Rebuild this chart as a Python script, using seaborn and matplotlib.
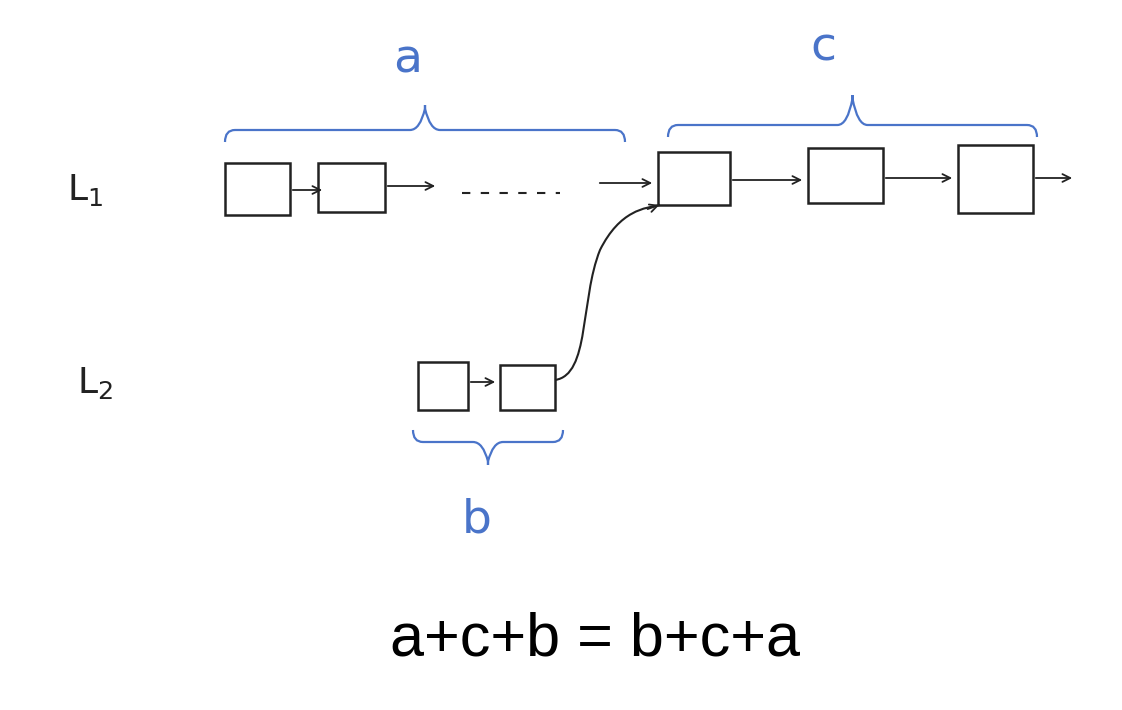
import matplotlib
matplotlib.use("Agg")
import matplotlib.pyplot as plt
from matplotlib.patches import Rectangle, FancyArrowPatch, PathPatch
from matplotlib.path import Path
import seaborn as sns

# node boxes (x0, y0, x1, y1) in pixel space
l1_boxes = [(225, 163, 290, 215), (318, 163, 385, 212), (658, 152, 730, 205),
            (808, 148, 883, 203), (958, 145, 1033, 213)]
l2_boxes = [(418, 362, 468, 410), (500, 365, 555, 410)]
arrows = [((290, 190), (325, 190)), ((385, 186), (438, 186)), ((597, 183), (655, 183)),
          ((730, 180), (805, 180)), ((883, 178), (955, 178)), ((1033, 178), (1075, 178)),
          ((468, 382), (498, 382))]
braces = [(225, 625, 130, 105, 1), (668, 1037, 125, 95, 1), (413, 563, 442, 465, -1)]
brace_labels = [("a", 408, 60), ("c", 823, 48), ("b", 477, 520)]
list_labels = [("L$_1$", 85, 190), ("L$_2$", 95, 383)]
equation = "a+c+b = b+c+a"

blue = "#4a74c9"
ink = "#222222"

sns.set_theme(style="white")
fig = plt.figure(figsize=(11.22, 7.1), dpi=100)
ax = fig.add_axes([0, 0, 1, 1])
ax.set_xlim(0, 1122)
ax.set_ylim(710, 0)
ax.axis("off")

for x0, y0, x1, y1 in l1_boxes + l2_boxes:
    ax.add_patch(Rectangle((x0, y0), x1 - x0, y1 - y0, fill=False, ec=ink, lw=1.8))

for a, b in arrows:
    ax.add_patch(FancyArrowPatch(a, b, arrowstyle="->", mutation_scale=14, color=ink, lw=1.3))

# dashed gap in L1
ax.plot([462, 560], [193, 193], color=ink, lw=1.5, ls=(0, (4, 5)))

# curve from L2 tail to L1 node
verts = [(555, 380), (590, 375), (580, 300), (600, 250), (620, 210), (645, 208), (660, 205)]
codes = [Path.MOVETO, Path.CURVE4, Path.CURVE4, Path.CURVE4, Path.CURVE4, Path.CURVE4, Path.CURVE4]
ax.add_patch(PathPatch(Path(verts, codes), fill=False, ec=ink, lw=1.5))
ax.add_patch(FancyArrowPatch((645, 210), (662, 204), arrowstyle="->", mutation_scale=14, color=ink, lw=1.3))


def brace(x0, x1, y, tip, d):
    xm = (x0 + x1) / 2
    e = 12 * d
    v = [(x0, y + e), (x0, y), (x0 + 10, y), (xm - 15, y), (xm - 5, y), (xm, tip + e * 0.3), (xm, tip),
         (xm, tip + e * 0.3), (xm + 5, y), (xm + 15, y), (x1 - 10, y), (x1, y), (x1, y + e)]
    c = [Path.MOVETO] + [Path.CURVE3] * 2 + [Path.LINETO] + [Path.CURVE3] * 2 + [Path.LINETO] \
        + [Path.LINETO] + [Path.CURVE3] * 2 + [Path.LINETO] + [Path.CURVE3] * 2
    ax.add_patch(PathPatch(Path(v, c), fill=False, ec=blue, lw=1.6))


for x0, x1, y, tip, d in braces:
    brace(x0, x1, y, tip, d)

for t, x, y in brace_labels:
    ax.text(x, y, t, color=blue, fontsize=34, ha="center", va="center", family="DejaVu Sans")
for t, x, y in list_labels:
    ax.text(x, y, t, color=ink, fontsize=26, ha="center", va="center")

ax.text(595, 640, equation, color="black", fontsize=44, ha="center", va="center",
        family="Liberation Sans")

fig.savefig("out.png", dpi=100)
